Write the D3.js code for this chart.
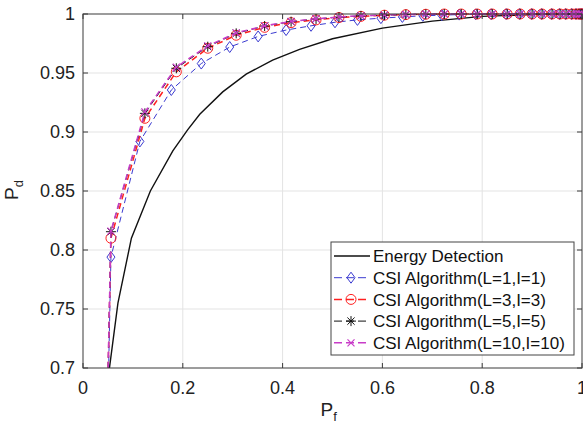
<!DOCTYPE html>
<html>
<head>
<meta charset="utf-8">
<script src="https://cdn.jsdelivr.net/npm/d3@7"></script>
<style>
  body { margin: 0; background: #fff; }
  svg { font-family: "Liberation Sans", Arial, sans-serif; }
</style>
</head>
<body>
<div id="chart"></div>
<script>
// Energy detection curve
const pfEnergy = [0.045, 0.053, 0.07, 0.097, 0.135, 0.18, 0.21, 0.234, 0.28, 0.327, 0.38, 0.434, 0.5, 0.6, 0.7, 0.8, 0.9, 1.0];
const pdEnergy = [0.675, 0.7, 0.755, 0.81, 0.85, 0.884, 0.902, 0.915, 0.934, 0.949, 0.961, 0.97, 0.979, 0.988, 0.994, 0.998, 0.9995, 1.0];

// Pf points of the CSI curves (L=1 sits a little to the left)
const pfCsi1 = [0.045, 0.056, 0.114, 0.177, 0.237, 0.294, 0.351, 0.407, 0.457, 0.505, 0.55, 0.597, 0.64, 0.681, 0.719, 0.754, 0.787, 0.818, 0.848, 0.875, 0.899, 0.919, 0.939, 0.955, 0.967, 0.979, 0.988, 0.994, 0.998, 1.0];
const pfCsi = [0.045, 0.056, 0.124, 0.187, 0.25, 0.307, 0.364, 0.417, 0.467, 0.513, 0.557, 0.604, 0.647, 0.687, 0.724, 0.758, 0.79, 0.82, 0.85, 0.876, 0.9, 0.92, 0.94, 0.956, 0.968, 0.98, 0.988, 0.994, 0.998, 1.0];

const pdCsi1 = [0.57, 0.794, 0.892, 0.9356, 0.958, 0.972, 0.981, 0.9864, 0.99, 0.993, 0.995, 0.9965, 0.9975, 0.9985, 0.999, 0.9995, 0.9997, 0.9998, 0.9999, 1, 1, 1, 1, 1, 1, 1, 1, 1, 1, 1];
const pdCsi3 = [0.59, 0.81, 0.9116, 0.951, 0.971, 0.982, 0.9887, 0.9927, 0.995, 0.997, 0.998, 0.999, 0.9995, 0.9998, 1, 1, 1, 1, 1, 1, 1, 1, 1, 1, 1, 1, 1, 1, 1, 1];
const pdCsi5 = [0.59, 0.8155, 0.9158, 0.954, 0.9723, 0.9836, 0.9898, 0.9935, 0.9958, 0.9973, 0.9984, 0.999, 0.9995, 0.9998, 1, 1, 1, 1, 1, 1, 1, 1, 1, 1, 1, 1, 1, 1, 1, 1];
const pdCsi10 = [0.59, 0.816, 0.917, 0.955, 0.973, 0.984, 0.99, 0.9937, 0.996, 0.9975, 0.9985, 0.9992, 0.9996, 0.9998, 1, 1, 1, 1, 1, 1, 1, 1, 1, 1, 1, 1, 1, 1, 1, 1];

const xTicks = [0, 0.2, 0.4, 0.6, 0.8, 1];
const yTicks = [0.7, 0.75, 0.8, 0.85, 0.9, 0.95, 1];

const legendLabels = ["Energy Detection", "CSI Algorithm(L=1,I=1)", "CSI Algorithm(L=3,I=3)", "CSI Algorithm(L=5,I=5)", "CSI Algorithm(L=10,I=10)"];

const series = [
  { name: legendLabels[0], pf: pfEnergy, pd: pdEnergy, color: "#111", dash: null, width: 1.4, marker: null },
  { name: legendLabels[1], pf: pfCsi1, pd: pdCsi1, color: "#3b3bd0", dash: "6,4", width: 1, marker: "diamond" },
  { name: legendLabels[2], pf: pfCsi, pd: pdCsi3, color: "#ff2020", dash: "6,4", width: 1.5, marker: "circle" },
  { name: legendLabels[3], pf: pfCsi, pd: pdCsi5, color: "#111", dash: "6,4", width: 1, marker: "star" },
  { name: legendLabels[4], pf: pfCsi, pd: pdCsi10, color: "#c83cc8", dash: "6,4", width: 1.5, marker: "cross" }
];

const W = 583, H = 432;
const margin = { top: 14, right: 1, bottom: 64, left: 83 };
const width = W - margin.left - margin.right;
const height = H - margin.top - margin.bottom;

const svg = d3.select("#chart").append("svg").attr("width", W).attr("height", H);
const g = svg.append("g").attr("transform", `translate(${margin.left},${margin.top})`);

const x = d3.scaleLinear().domain([0, 1]).range([0, width]);
const y = d3.scaleLinear().domain([0.7, 1]).range([height, 0]);

// grid
g.append("g").selectAll("line").data(xTicks.slice(1, -1)).join("line")
  .attr("x1", d => x(d)).attr("x2", d => x(d)).attr("y1", 0).attr("y2", height)
  .attr("stroke", "#e3e3e3").attr("stroke-width", 1);
g.append("g").selectAll("line").data(yTicks.slice(1, -1)).join("line")
  .attr("y1", d => y(d)).attr("y2", d => y(d)).attr("x1", 0).attr("x2", width)
  .attr("stroke", "#e3e3e3").attr("stroke-width", 1);

// clip
svg.append("defs").append("clipPath").attr("id", "clip")
  .append("rect").attr("x", -6).attr("y", -6).attr("width", width + 12).attr("height", height + 6);

const plot = g.append("g").attr("clip-path", "url(#clip)");

function drawMarker(sel, type, color) {
  if (type === "diamond") {
    sel.append("path").attr("d", "M0,-5.5L4,0L0,5.5L-4,0Z").attr("fill", "none").attr("stroke", color).attr("stroke-width", 1);
  } else if (type === "circle") {
    sel.append("circle").attr("r", 5).attr("fill", "none").attr("stroke", color).attr("stroke-width", 1);
  } else if (type === "star") {
    sel.append("path").attr("d", "M-5,0H5M0,-5V5M-3.6,-3.6L3.6,3.6M-3.6,3.6L3.6,-3.6").attr("stroke", color).attr("stroke-width", 1);
  } else if (type === "cross") {
    sel.append("path").attr("d", "M-3.5,-3.5L3.5,3.5M-3.5,3.5L3.5,-3.5").attr("stroke", color).attr("stroke-width", 1.2);
  }
}

const line = d3.line().x(d => x(d[0])).y(d => y(d[1]));

series.forEach(s => {
  const pts = s.pf.map((p, i) => [p, s.pd[i]]);
  plot.append("path").datum(pts).attr("d", line)
    .attr("fill", "none").attr("stroke", s.color).attr("stroke-width", s.width)
    .attr("stroke-dasharray", s.dash);
  if (s.marker) {
    pts.forEach(p => {
      if (p[1] < 0.7) return;
      const m = plot.append("g").attr("transform", `translate(${x(p[0])},${y(p[1])})`);
      drawMarker(m, s.marker, s.color);
    });
  }
});

// box + ticks
const axisColor = "#3a3a3a";
g.append("rect").attr("x", 0).attr("y", 0).attr("width", width).attr("height", height)
  .attr("fill", "none").attr("stroke", axisColor).attr("stroke-width", 1);

xTicks.forEach(t => {
  g.append("line").attr("x1", x(t)).attr("x2", x(t)).attr("y1", height).attr("y2", height - 5).attr("stroke", axisColor);
  g.append("line").attr("x1", x(t)).attr("x2", x(t)).attr("y1", 0).attr("y2", 5).attr("stroke", axisColor);
  g.append("text").attr("x", x(t)).attr("y", height + 26).attr("text-anchor", "middle")
    .attr("font-size", 18).attr("fill", "#222").text(d3.format("~g")(t));
});
yTicks.forEach(t => {
  g.append("line").attr("y1", y(t)).attr("y2", y(t)).attr("x1", 0).attr("x2", 5).attr("stroke", axisColor);
  g.append("line").attr("y1", y(t)).attr("y2", y(t)).attr("x1", width).attr("x2", width - 5).attr("stroke", axisColor);
  g.append("text").attr("x", -8).attr("y", y(t)).attr("dy", "0.35em").attr("text-anchor", "end")
    .attr("font-size", 18).attr("fill", "#222").text(d3.format("~g")(t));
});

// axis labels
const xl = g.append("text").attr("x", width / 2 - 12).attr("y", height + 48)
  .attr("font-size", 19).attr("fill", "#222");
xl.append("tspan").text("P");
xl.append("tspan").attr("font-size", 13).attr("dy", 5).text("f");

const yl = svg.append("text").attr("transform", `translate(18,${margin.top + height / 2 + 9}) rotate(-90)`)
  .attr("font-size", 19).attr("fill", "#222");
yl.append("tspan").text("P");
yl.append("tspan").attr("font-size", 13).attr("dy", 5).text("d");

// legend
const lg = svg.append("g").attr("transform", "translate(331,242)");
lg.append("rect").attr("width", 243).attr("height", 113).attr("fill", "#fff")
  .attr("stroke", "#444").attr("stroke-width", 1);
series.forEach((s, i) => {
  const cy = 14 + i * 21.7;
  lg.append("line").attr("x1", 3).attr("x2", 39).attr("y1", cy).attr("y2", cy)
    .attr("stroke", s.color).attr("stroke-width", s.width).attr("stroke-dasharray", s.dash ? "8,4" : null);
  if (s.marker) {
    const m = lg.append("g").attr("transform", `translate(20,${cy})`);
    drawMarker(m, s.marker, s.color);
  }
  lg.append("text").attr("x", 42).attr("y", cy).attr("dy", "0.36em")
    .attr("font-size", 17).attr("fill", "#111").text(s.name);
});
</script>
</body>
</html>
